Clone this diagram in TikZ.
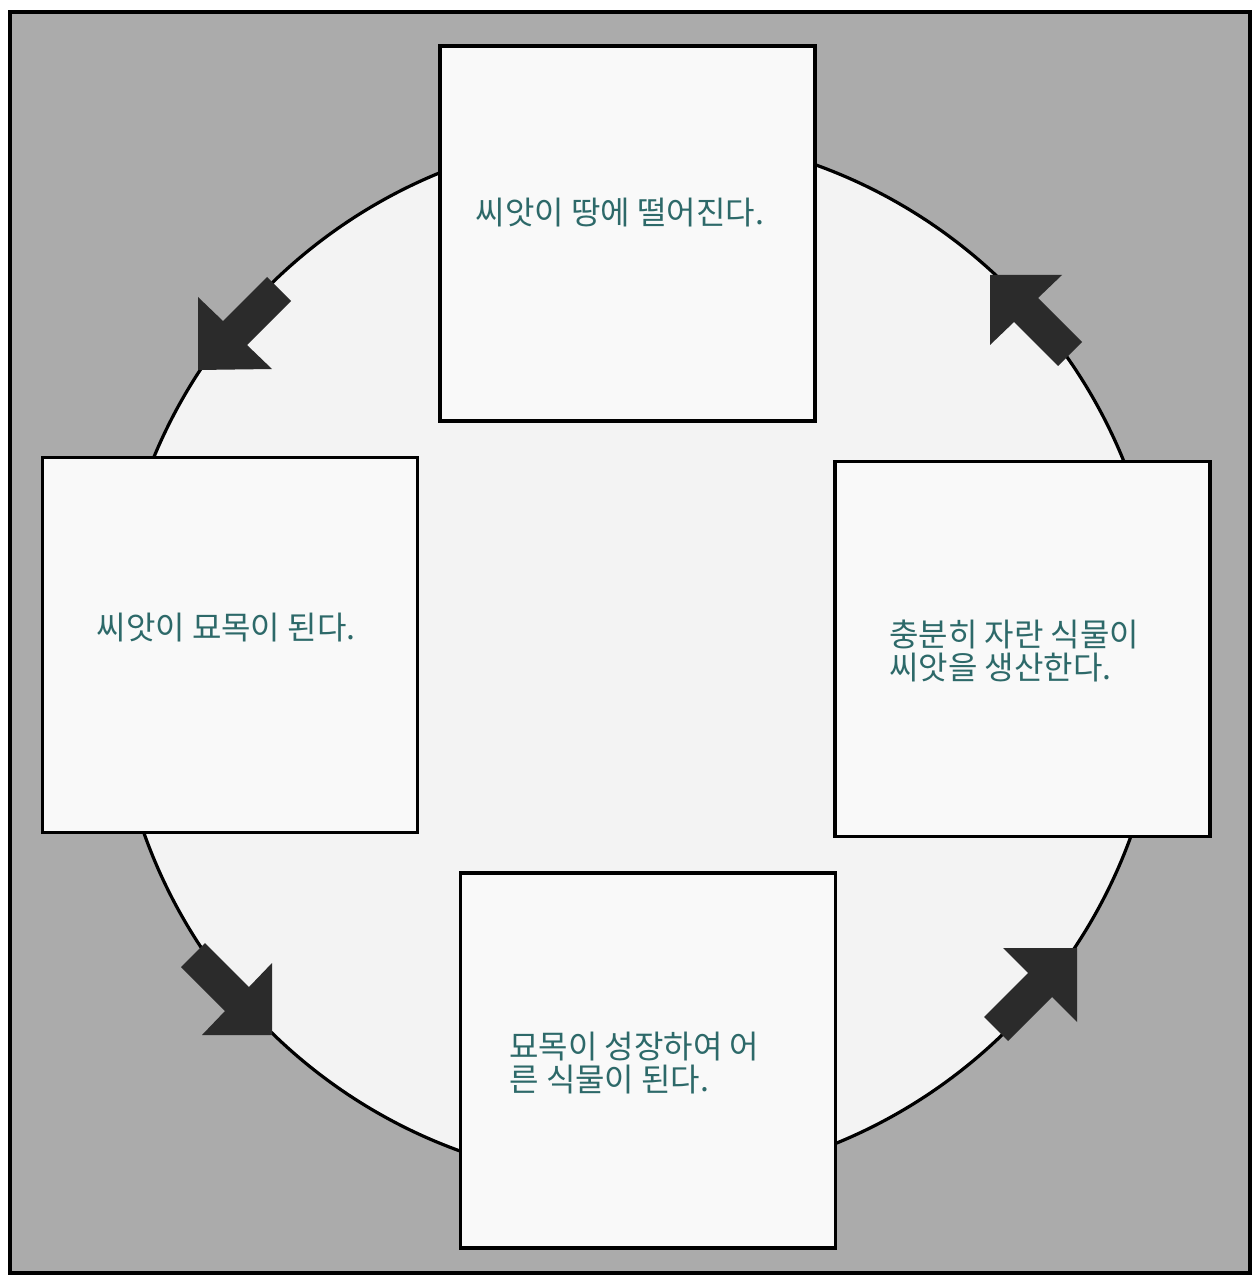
\documentclass[tikz,border=0pt]{standalone}
\usepackage{fontspec}
\newfontfamily\kr{Noto Sans CJK KR}
\definecolor{bggray}{RGB}{171,171,171}
\definecolor{circfill}{RGB}{243,243,243}
\definecolor{boxfill}{RGB}{249,249,249}
\definecolor{arrowdark}{RGB}{43,43,43}
\definecolor{txtteal}{RGB}{45,105,105}
\begin{document}
\begin{tikzpicture}[x=0.5pt,y=-0.5pt,
  stagebox/.style={draw=black,line width=1.6pt,fill=boxfill,rectangle,inner sep=0pt,
    minimum width=187.5pt,minimum height=187.5pt},
  stagetext/.style={font=\kr\fontsize{16pt}{16.5pt}\selectfont,text=txtteal,align=left,
    inner sep=0pt},
  blockarrow/.style={fill=arrowdark,draw=none}]
\useasboundingbox (0,0) rectangle (1253,1277);
\fill[white] (0,0) rectangle (1253,1277);
% frame
\draw[line width=1.6pt,fill=bggray] (10,12) rectangle (1250,1273);
% cycle circle
\coordinate (cc) at (638,658);
\draw[line width=1.6pt,fill=circfill] (cc) circle[radius=524];
% stage boxes
\node[stagebox] (top) at (627.5,233.5) {};
\node[stagebox] (left) at (230,645) {};
\node[stagebox] (right) at (1022.5,649) {};
\node[stagebox] (bottom) at (648,1060.5) {};
% texts
\node[stagetext] (ttop) at (620,213) {씨앗이 땅에 떨어진다.};
\node[stagetext] (tleft) at (226,628) {씨앗이 묘목이 된다.};
\node[stagetext,anchor=west] (tright) at (889,651) {충분히 자란 식물이\\씨앗을 생산한다.};
\node[stagetext,anchor=west] (tbottom) at (509,1063) {묘목이 성장하여 어\\른 식물이 된다.};
% block arrows
\fill[blockarrow] (198,370) -- (198,297) -- (223,321) -- (267,277) -- (291,301) -- (247,345) -- (272,369) -- cycle;
\fill[blockarrow] (990,275) -- (1062,275) -- (1038,298) -- (1082,342) -- (1058,366) -- (1014,322) -- (990,345) -- cycle;
\fill[blockarrow] (272,1035) -- (272,963) -- (249,987) -- (205,943) -- (181,967) -- (225,1011) -- (202,1035) -- cycle;
\fill[blockarrow] (1077,948) -- (1003,948) -- (1028,973) -- (984,1017) -- (1008,1041) -- (1052,997) -- (1077,1022) -- cycle;
\end{tikzpicture}
\end{document}
